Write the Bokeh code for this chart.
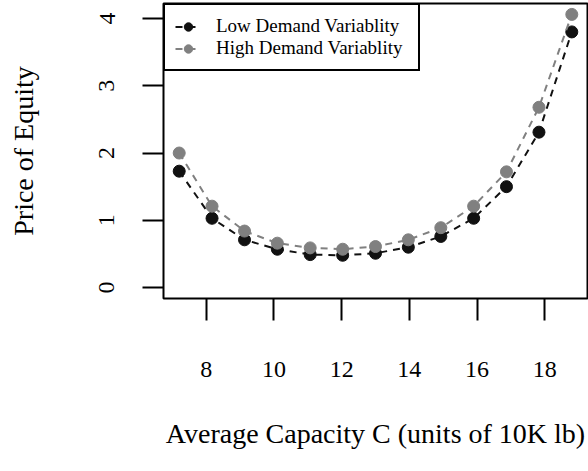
from bokeh.plotting import figure
from bokeh.models import Range1d, FixedTicker, Legend, LegendItem
from bokeh.embed import file_html
from bokeh.resources import INLINE

# Data
capacity = [7.2, 8.17, 9.13, 10.1, 11.07, 12.03, 13.0, 13.97, 14.93, 15.9, 16.87, 17.83, 18.8]
low_var = [1.73, 1.03, 0.71, 0.57, 0.49, 0.48, 0.51, 0.60, 0.76, 1.03, 1.50, 2.31, 3.80]
high_var = [2.00, 1.21, 0.84, 0.66, 0.59, 0.57, 0.61, 0.71, 0.89, 1.21, 1.72, 2.68, 4.06]
x_ticks = [8, 10, 12, 14, 16, 18]
y_ticks = [0, 1, 2, 3, 4]
series_names = ["Low Demand Variablity", "High Demand Variablity"]
x_title = "Average Capacity C (units of 10K lb)"
y_title = "Price of Equity"

FONT = "Liberation Serif"

# R-style 4% padding
xmin, xmax = min(capacity), max(capacity)
xpad = (xmax - xmin) * 0.04
ymin, ymax = 0.0, max(high_var + low_var)
ypad = (ymax - ymin) * 0.04

p = figure(width=588, height=471, output_backend="svg", toolbar_location=None,
           x_range=Range1d(xmin - xpad, xmax + xpad),
           y_range=Range1d(ymin - ypad, ymax + ypad),
           min_border_left=163, min_border_right=1, min_border_top=3, min_border_bottom=173)

p.xgrid.visible = False
p.ygrid.visible = False
p.outline_line_color = "black"
p.outline_line_alpha = 1.0
p.outline_line_width = 2
p.background_fill_color = "white"
p.border_fill_color = "white"

for ax in (p.xaxis[0], p.yaxis[0]):
    ax.axis_line_color = None
    ax.major_tick_in = 0
    ax.minor_tick_line_color = None
    ax.major_tick_line_color = "black"
    ax.major_tick_line_width = 2
    ax.major_label_text_font = FONT
    ax.major_label_text_font_size = "24px"
    ax.major_label_text_color = "black"
    ax.axis_label_text_font = FONT
    ax.axis_label_text_font_style = "normal"
    ax.axis_label_text_color = "black"

p.xaxis.axis_label_text_font_size = "28px"
p.yaxis.axis_label_text_font_size = "28px"
p.xaxis.ticker = FixedTicker(ticks=x_ticks)
p.yaxis.ticker = FixedTicker(ticks=y_ticks)
p.xaxis.major_tick_out = 22
p.yaxis.major_tick_out = 21
p.xaxis.major_label_standoff = 41
p.yaxis.major_label_standoff = 28
p.yaxis.major_label_orientation = "vertical"
p.xaxis.axis_label = x_title
p.yaxis.axis_label = y_title
p.xaxis.axis_label_standoff = 38
p.yaxis.axis_label_standoff = 58

black = "#111111"
gray = "#808080"

l1 = p.line(capacity, low_var, line_color=black, line_width=2, line_dash="7 6")
s1 = p.scatter(capacity, low_var, size=12, fill_color=black, line_color=black)
l2 = p.line(capacity, high_var, line_color=gray, line_width=2, line_dash="7 6")
s2 = p.scatter(capacity, high_var, size=12, fill_color=gray, line_color=gray)

legend = Legend(items=[LegendItem(label=series_names[0], renderers=[l1, s1]),
                       LegendItem(label=series_names[1], renderers=[l2, s2])],
                location="top_left")
legend.margin = 0
legend.padding = 10
legend.spacing = 0
legend.glyph_width = 26
legend.glyph_height = 21
legend.label_height = 22
legend.label_width = 192
legend.label_standoff = 15
legend.label_text_font = FONT
legend.label_text_font_size = "19px"
legend.label_text_color = "black"
legend.border_line_color = "black"
legend.border_line_alpha = 1.0
legend.border_line_width = 2
legend.background_fill_color = "white"
legend.background_fill_alpha = 1.0
p.add_layout(legend)

open("out.html", "w").write(file_html(p, INLINE))
